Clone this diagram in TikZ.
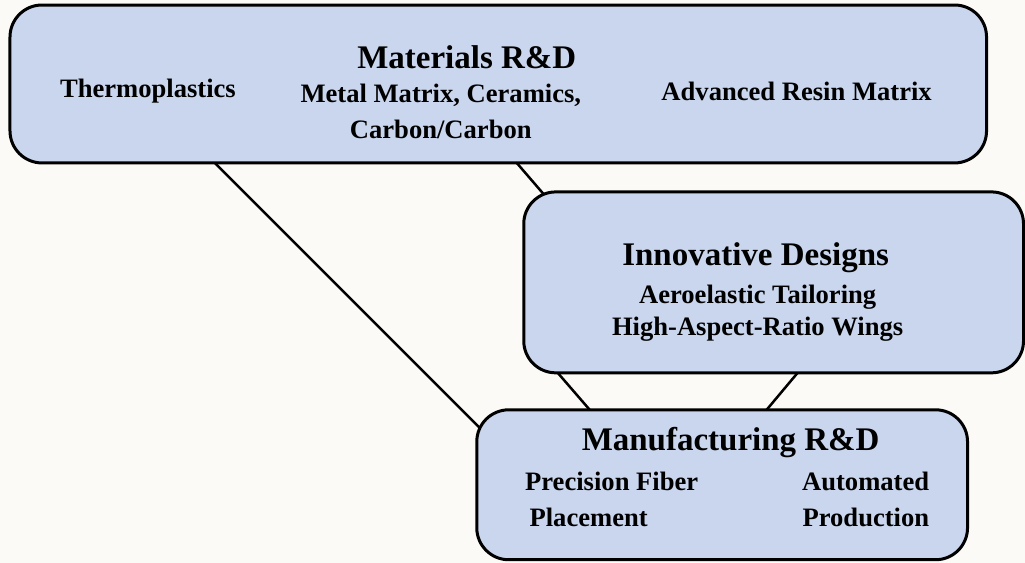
\documentclass[tikz,border=0pt]{standalone}
\usepackage{fontspec}
\setmainfont{Liberation Serif}
\usepackage{tikz}
\usetikzlibrary{backgrounds}

\definecolor{paper}{RGB}{252,250,246}
\definecolor{boxblue}{RGB}{201,214,237}

\begin{document}
\begin{tikzpicture}[x=0.5pt, y=-0.5pt,
    field/.style={draw, line width=1.5pt, fill=boxblue, rounded corners=16pt, inner sep=0pt, outer sep=0pt},
    head/.style={font=\bfseries\fontsize{16.5}{18}\selectfont},
    item/.style={font=\bfseries\fontsize{13.3}{18}\selectfont, inner sep=0pt},
    link/.style={line width=1.25pt}
]

% Three research areas
\node[field, minimum width=488.5pt, minimum height=79pt] (mat) at (498.5,84) {};
\node[head] (mattitle) at (467,57) {Materials R\&D};
\node[item] (thermo) at (148,91) {Thermoplastics};
\node[item, align=center] (metal) at (441,111) {Metal Matrix, Ceramics,\\Carbon/Carbon};
\node[item] (resin) at (797,91) {Advanced Resin Matrix};

\node[field, minimum width=250pt, minimum height=90.5pt] (inn) at (774,282.5) {};
\node[head] (inntitle) at (756,258) {Innovative Designs};
\node[item, align=center] (aero) at (758,313) {Aeroelastic Tailoring\\[-2pt]High-Aspect-Ratio Wings};

\node[field, minimum width=245.5pt, minimum height=75pt] (man) at (722.5,485) {};
\node[head] (mantitle) at (731,443) {Manufacturing R\&D};
\node[item, align=left, anchor=west] (fiber) at (525,500) {Precision Fiber\\\,Placement};
\node[item, align=right, anchor=east] (auto) at (930,500) {Automated\\Production};

% Links behind the boxes
\begin{scope}[on background layer]
\fill[paper] (0,0) rectangle (1025,563);
\draw[link] ([xshift=102.5pt]mat.south west) -- ([xshift=4pt,yshift=26pt]man.west);
\draw[link] ([xshift=253.5pt]mat.south west) -- ([xshift=12pt,yshift=-3.5pt]inn.north west);
\draw[link] ([xshift=17pt]inn.south west) -- ([xshift=56.5pt]man.north west);
\draw[link] ([xshift=137pt]inn.south west) -- ([xshift=145pt]man.north west);
\end{scope}

\useasboundingbox (0,0) rectangle (1025,563);
\end{tikzpicture}
\end{document}
